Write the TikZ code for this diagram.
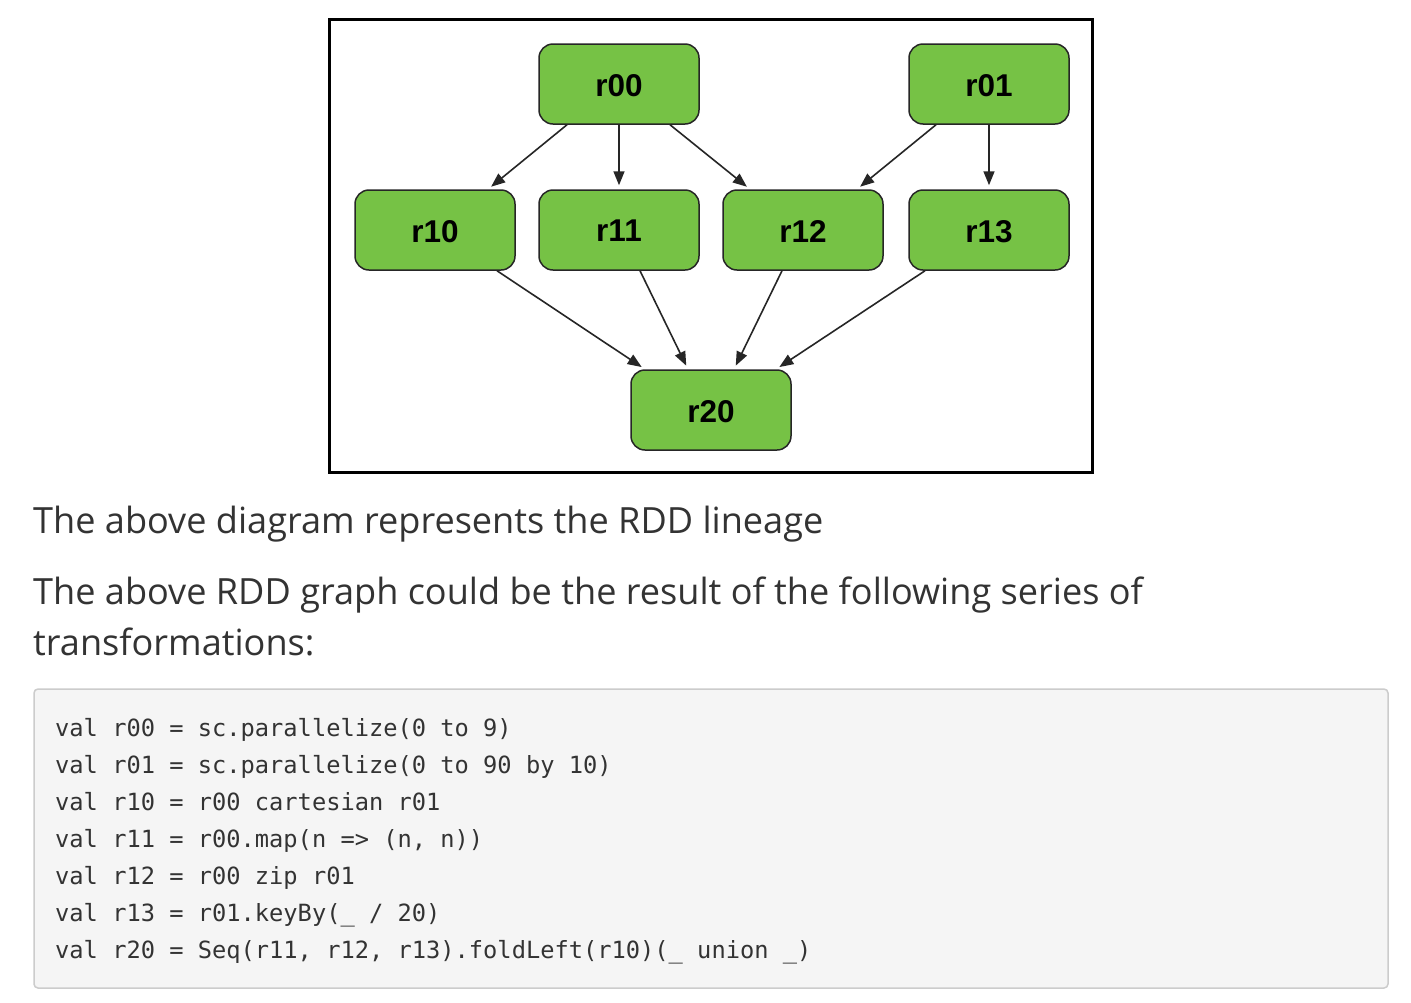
\documentclass[tikz,border=0pt]{standalone}
\usepackage{fontspec}
\setmainfont{Open Sans}
\newfontfamily\nodefont{Liberation Sans}
\newfontfamily\codefont{DejaVu Sans Mono}
\usetikzlibrary{arrows.meta,calc}
\definecolor{rddgreen}{RGB}{118,194,69}
\definecolor{txt}{RGB}{51,51,51}
\definecolor{codebg}{RGB}{245,245,245}
\definecolor{codeborder}{RGB}{204,204,204}
\tikzset{
  rdd/.style={draw=black!85, line width=1.5pt, fill=rddgreen, rounded corners=14pt,
    minimum width=160pt, minimum height=80pt, inner sep=0pt, text depth=0pt,
    font=\nodefont\bfseries\fontsize{31.5}{31.5}\selectfont},
  dep/.style={draw=black!85, line width=1.6pt, -{Triangle[length=14pt,width=11pt]}, shorten >=4pt},
  para/.style={anchor=base west, inner sep=0pt, text=txt, font=\fontsize{36.1}{40}\selectfont},
  codeline/.style={anchor=base west, inner sep=0pt, text=txt, font=\codefont\fontsize{23.7}{26}\selectfont},
}
\begin{document}
\begin{tikzpicture}[x=1pt,y=-1pt]
\useasboundingbox (0,0) rectangle (1411,1002);
\fill[white] (0,0) rectangle (1411,1002);
% frame
\draw[line width=3pt] (329.5,19) rectangle (1092,472);
% nodes
\node[rdd] (r00) at (619,84) {\raisebox{-2pt}{r00}};
\node[rdd] (r01) at (989,84) {\raisebox{-2pt}{r01}};
\node[rdd] (r10) at (435,230) {\raisebox{-2pt}{r10}};
\node[rdd] (r11) at (619,230) {\raisebox{-2pt}{r11}};
\node[rdd] (r12) at (803,230) {\raisebox{-2pt}{r12}};
\node[rdd] (r13) at (989,230) {\raisebox{-2pt}{r13}};
\node[rdd] (r20) at (711,410) {\raisebox{-2pt}{r20}};
% edges
\draw[dep] ([xshift=-52pt]r00.south) -- ([xshift=53pt]r10.north);
\draw[dep] (r00.south) -- (r11.north);
\draw[dep] ([xshift=51pt]r00.south) -- ([xshift=-53pt]r12.north);
\draw[dep] ([xshift=-53pt]r01.south) -- ([xshift=54pt]r12.north);
\draw[dep] (r01.south) -- (r13.north);
\draw[dep] ([xshift=62pt]r10.south) -- ([xshift=-66pt]r20.north);
\draw[dep] ([xshift=21pt]r11.south) -- ([xshift=-23pt]r20.north);
\draw[dep] ([xshift=-21pt]r12.south) -- ([xshift=23pt]r20.north);
\draw[dep] ([xshift=-64pt]r13.south) -- ([xshift=65pt]r20.north);
% paragraphs
\node[para] (p1) at (33,533) {The above diagram represents the RDD lineage};
\node[para] (p2) at (33,604) {The above RDD graph could be the result of the following series of};
\node[para] (p3) at (33,655) {transformations:};
% code block
\draw[codeborder, fill=codebg, line width=1.5pt, rounded corners=4pt] (34,689) rectangle (1388,988);
\node[codeline] (c1) at (55,736) {val r00 = sc.parallelize(0 to 9)};
\node[codeline] (c2) at (55,773) {val r01 = sc.parallelize(0 to 90 by 10)};
\node[codeline] (c3) at (55,810) {val r10 = r00 cartesian r01};
\node[codeline] (c4) at (55,847) {val r11 = r00.map(n => (n, n))};
\node[codeline] (c5) at (55,884) {val r12 = r00 zip r01};
\node[codeline] (c6) at (55,921) {val r13 = r01.keyBy(\_ / 20)};
\node[codeline] (c7) at (55,958) {val r20 = Seq(r11, r12, r13).foldLeft(r10)(\_ union \_)};
\end{tikzpicture}
\end{document}
